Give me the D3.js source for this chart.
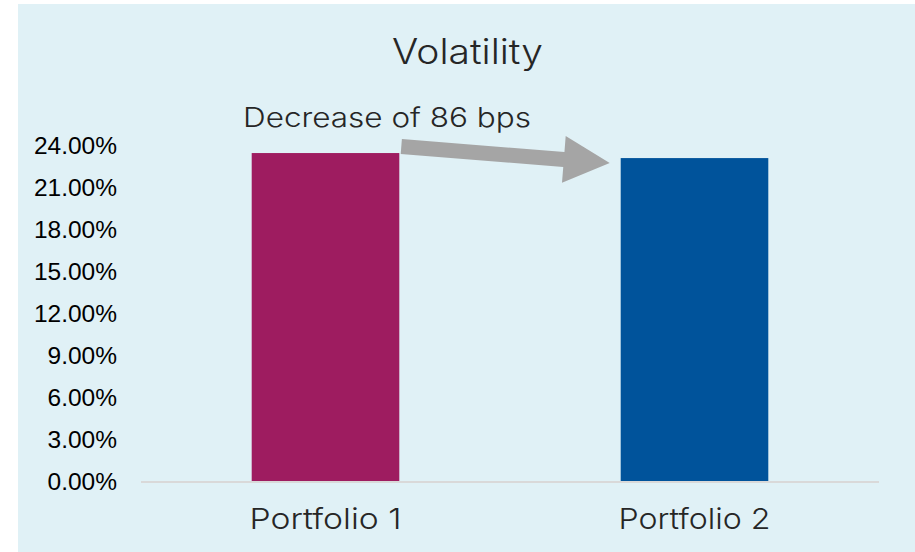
<!DOCTYPE html>
<html>
<head>
<meta charset="utf-8">
<script src="https://cdn.jsdelivr.net/npm/d3@7"></script>
<style>
  body { margin: 0; background: #ffffff; }
  svg { display: block; }
</style>
</head>
<body>
<div class="chart"></div>
<script>
var categories = ["Portfolio 1", "Portfolio 2"];
var volatility = [23.46, 23.10];
var barColors = ["#9e1c60", "#00539b"];
var tickValues = [0, 3, 6, 9, 12, 15, 18, 21, 24];
var title = "Volatility";
var note = "Decrease of 86 bps";

var width = 915, height = 552;
var lightFont = "Inter, 'Open Sans', sans-serif";

var svg = d3.select(".chart").append("svg")
    .attr("width", width)
    .attr("height", height);

// chart area background
svg.append("rect")
    .attr("x", 18).attr("y", 4)
    .attr("width", width - 18).attr("height", height - 4)
    .attr("fill", "#e0f1f6");

var x = d3.scaleBand()
    .domain(categories)
    .range([141, 879])
    .paddingInner(0.6)
    .paddingOuter(0.3);

var y = d3.scaleLinear()
    .domain([0, 24])
    .range([481, 145.5]);

// light text, stretched to the width seen in the picture
function lightText(txt, cx, cy, size, w, anchor) {
    return svg.append("text")
        .attr("x", cx).attr("y", cy)
        .attr("text-anchor", anchor)
        .attr("font-family", lightFont)
        .attr("font-weight", 300)
        .attr("font-size", size)
        .attr("fill", "#262626")
        .attr("textLength", w)
        .attr("lengthAdjust", "spacingAndGlyphs")
        .text(txt);
}

lightText(title, 467.5, 64, 35, 151, "middle");

// y tick labels
svg.selectAll(".ytick")
    .data(tickValues)
    .enter().append("text")
    .attr("class", "ytick")
    .attr("x", 117)
    .attr("y", function(d) { return y(d); })
    .attr("dy", "0.35em")
    .attr("text-anchor", "end")
    .attr("font-family", "'Liberation Sans', Arial, sans-serif")
    .attr("font-size", 24.5)
    .attr("fill", "#000")
    .text(function(d) { return d.toFixed(2) + "%"; });

// bars
svg.selectAll(".bar")
    .data(volatility)
    .enter().append("rect")
    .attr("class", "bar")
    .attr("x", function(d, i) { return x(categories[i]); })
    .attr("y", function(d) { return y(d); })
    .attr("width", x.bandwidth())
    .attr("height", function(d) { return y(0) - y(d); })
    .attr("fill", function(d, i) { return barColors[i]; });

// baseline
svg.append("line")
    .attr("x1", 141).attr("x2", 879)
    .attr("y1", y(0) + 1).attr("y2", y(0) + 1)
    .attr("stroke", "#d9d9d9")
    .attr("stroke-width", 2);

// category labels
categories.forEach(function(c) {
    lightText(c, x(c) + x.bandwidth() / 2, 529, 29, 152, "middle");
});

// arrow from bar 1 to bar 2
var sx = x(categories[0]) + x.bandwidth() + 2, sy = y(volatility[0]) - 6.5;
var tx = x(categories[1]) - 11, ty = y(volatility[1]) + 5;
var ang = Math.atan2(ty - sy, tx - sx);
var len = Math.hypot(tx - sx, ty - sy);
var shaft = 7.5, head = 23.5, headLen = 46;
var pts = [
    [0, -shaft], [len - headLen, -shaft], [len - headLen, -head],
    [len, 0], [len - headLen, head], [len - headLen, shaft], [0, shaft]
];
svg.append("path")
    .attr("d", d3.line()(pts) + "Z")
    .attr("transform", "translate(" + sx + "," + sy + ") rotate(" + (ang * 180 / Math.PI) + ")")
    .attr("fill", "#a5a5a5");

lightText(note, 243, 127, 27, 288, "start");
</script>
</body>
</html>
